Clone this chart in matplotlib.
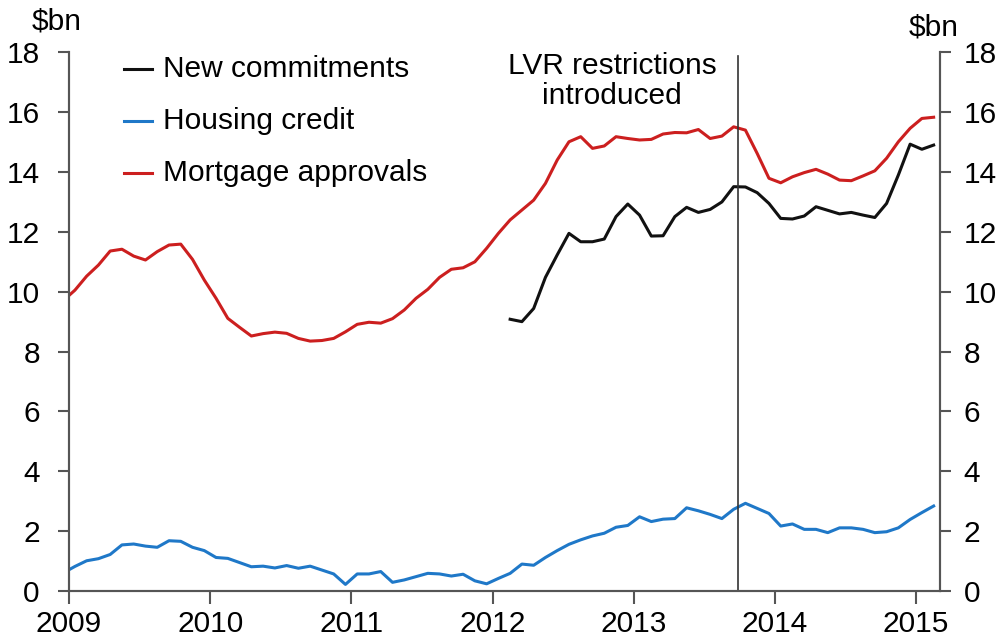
import numpy as np
import matplotlib.pyplot as plt

plt.rcParams['font.family'] = ['Liberation Sans', 'DejaVu Sans']

# ************ #
# *** DATA *** #
# ************ #

# monthly, plotted at mid-month; mortgage approvals and housing credit start Dec 2008
MORTGAGE_START = 2008 + 11.5 / 12
mortgageApprovals = [
    9.70, 10.05, 10.52, 10.89, 11.36, 11.42, 11.19, 11.06, 11.34, 11.56, 11.59, 11.08, 10.39,
    9.78, 9.11, 8.81, 8.52, 8.60, 8.65, 8.61, 8.44, 8.35, 8.37, 8.44, 8.66,
    8.91, 8.98, 8.95, 9.10, 9.39, 9.78, 10.08, 10.48, 10.75, 10.80, 11.00, 11.45,
    11.95, 12.40, 12.73, 13.06, 13.62, 14.40, 15.01, 15.18, 14.79, 14.87, 15.18, 15.12,
    15.07, 15.09, 15.27, 15.32, 15.31, 15.42, 15.12, 15.20, 15.51, 15.40, 14.62, 13.79,
    13.64, 13.84, 13.98, 14.09, 13.93, 13.73, 13.71, 13.87, 14.04, 14.46, 15.01, 15.46,
    15.79, 15.83,
]

housingCredit = [
    0.60, 0.82, 1.01, 1.08, 1.22, 1.54, 1.57, 1.50, 1.46, 1.68, 1.66, 1.46, 1.35,
    1.12, 1.09, 0.95, 0.81, 0.83, 0.77, 0.85, 0.76, 0.83, 0.70, 0.57, 0.22,
    0.57, 0.57, 0.65, 0.29, 0.37, 0.48, 0.59, 0.57, 0.50, 0.56, 0.34, 0.24,
    0.42, 0.59, 0.90, 0.86, 1.12, 1.35, 1.56, 1.71, 1.84, 1.93, 2.13, 2.19,
    2.48, 2.32, 2.40, 2.42, 2.78, 2.68, 2.56, 2.42, 2.73, 2.93, 2.76, 2.59,
    2.17, 2.24, 2.06, 2.06, 1.95, 2.11, 2.11, 2.06, 1.95, 1.98, 2.11, 2.39,
    2.62, 2.84,
]

# new commitments start Feb 2012
COMMIT_START = 2012 + 1.5 / 12
newCommitments = [
    9.08, 9.00, 9.44, 10.48, 11.23, 11.95, 11.67, 11.67, 11.76, 12.51, 12.93,
    12.56, 11.86, 11.87, 12.51, 12.82, 12.65, 12.75, 13.00, 13.51, 13.50, 13.31, 12.95,
    12.45, 12.43, 12.53, 12.84, 12.72, 12.60, 12.65, 12.56, 12.48, 12.95, 13.90, 14.93,
    14.76, 14.90,
]

LVR_DATE = 2013.74
yearTicks = [2009, 2010, 2011, 2012, 2013, 2014, 2015]
valueTicks = [0, 2, 4, 6, 8, 10, 12, 14, 16, 18]

BLACK = '#111111'
BLUE = '#1f78c8'
RED = '#cc1f1f'
SPINE = '#555555'
FS = 21.5


def monthAxis(start, n):
    return start + np.arange(n) / 12.0


# ************* #
# *** CHART *** #
# ************* #

fig = plt.figure(figsize=(10.01, 6.44), dpi=100)
ax = fig.add_axes([69 / 1001, 53 / 644, 871 / 1001, 538.7 / 644])

ax.plot(monthAxis(MORTGAGE_START, len(mortgageApprovals)), mortgageApprovals, color=RED, lw=2.2, label='Mortgage approvals')
ax.plot(monthAxis(MORTGAGE_START, len(housingCredit)), housingCredit, color=BLUE, lw=2.2, label='Housing credit')
ax.plot(monthAxis(COMMIT_START, len(newCommitments)), newCommitments, color=BLACK, lw=2.2, label='New commitments')

ax.plot([LVR_DATE, LVR_DATE], [0, 17.88], color='#333333', lw=1.2)

ax.set_xlim(2009, 2015.17)
ax.set_ylim(0, 18)

ax.set_xticks(yearTicks)
ax.set_xticklabels([str(y) for y in yearTicks])
ax.set_yticks(valueTicks)

ax2 = ax.twinx()
ax2.set_ylim(0, 18)
ax2.set_yticks(valueTicks)

for a in (ax, ax2):
    a.spines['top'].set_visible(False)
    for s in ('left', 'right', 'bottom'):
        a.spines[s].set_color(SPINE)
        a.spines[s].set_linewidth(1.5)

ax.tick_params(axis='x', direction='out', length=9, width=1.5, color=SPINE, labelsize=FS, pad=5)
ax.tick_params(axis='y', direction='out', length=8, width=1.5, color=SPINE, labelsize=FS, pad=13)
ax2.tick_params(axis='y', direction='out', length=8, width=1.5, color=SPINE, labelsize=FS, pad=9)

fig.text(57 / 1001, 1 - 22 / 644, '$bn', fontsize=FS, ha='center', va='center')
fig.text(934 / 1001, 1 - 27 / 644, '$bn', fontsize=FS, ha='center', va='center')

fig.text(612 / 1001, 1 - 81 / 644, 'LVR restrictions\nintroduced', fontsize=FS, ha='center', va='center',
         linespacing=1.05)

# legend drawn by hand to match the stacked layout
legendRows = [('New commitments', BLACK, 69), ('Housing credit', BLUE, 121), ('Mortgage approvals', RED, 173)]
for label, colour, yPix in legendRows:
    yFig = 1 - yPix / 644
    fig.add_artist(plt.Line2D([124 / 1001, 152 / 1001], [yFig, yFig], color=colour, lw=2.2))
    fig.text(163 / 1001, yFig, label, fontsize=FS, ha='left', va='center')

fig.savefig('out.png', dpi=100)
